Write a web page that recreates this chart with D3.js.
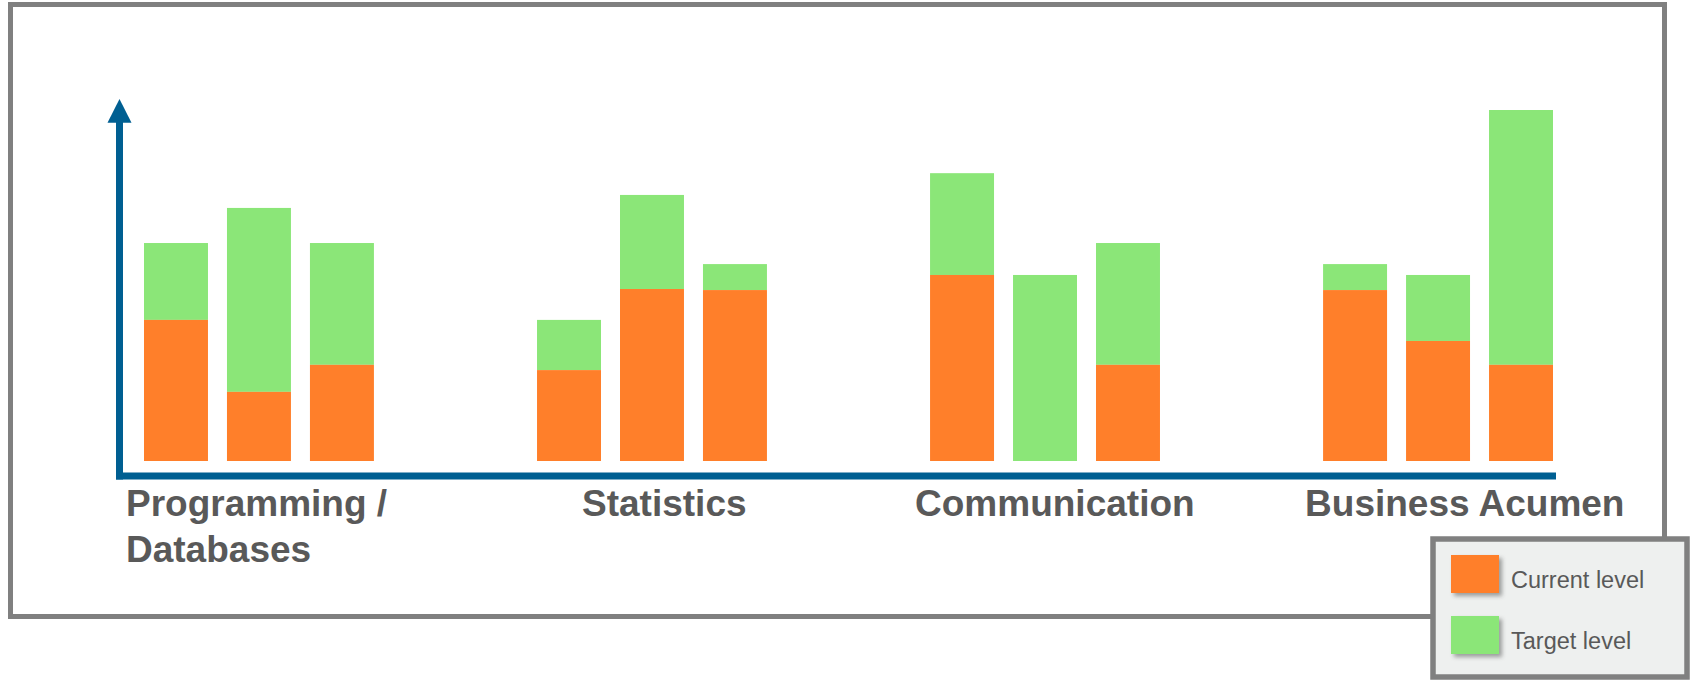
<!DOCTYPE html>
<html>
<head>
<meta charset="utf-8">
<script src="https://cdn.jsdelivr.net/npm/d3@7"></script>
<style>
  body { margin: 0; background: #fff; }
  svg { display: block; font-family: "Liberation Sans", Arial, sans-serif; }
</style>
</head>
<body>
<div id="chart"></div>
<script>
const width = 1692;
const height = 681;

// data
const categories = ["Programming /\nDatabases", "Statistics", "Communication", "Business Acumen"];
const currentLevel = [
    [40.2, 19.7, 27.4],
    [25.9, 49.0, 48.7],
    [53.0, 0, 27.4],
    [48.7, 34.2, 27.4]
];
const targetLevel = [
    [62.1, 72.1, 62.1],
    [40.2, 75.8, 56.1],
    [82.0, 53.0, 62.1],
    [56.1, 53.0, 100]
];
const legendItems = ["Current level", "Target level"];

const orange = "#ff7f2a";
const green = "#8be678";
const axisBlue = "#005f92";
const textGrey = "#595959";

// layout
const labelDx = [-18, 45, -15, -18];

const svg = d3.select("#chart")
    .append("svg")
    .attr("width", width)
    .attr("height", height);

const defs = svg.append("defs");
defs.append("filter")
    .attr("id", "shadow")
    .attr("x", "-20%").attr("y", "-20%")
    .attr("width", "150%").attr("height", "150%")
    .append("feDropShadow")
    .attr("dx", 3).attr("dy", 3)
    .attr("stdDeviation", 2)
    .attr("flood-color", "#000")
    .attr("flood-opacity", 0.35);

// outer frame
svg.append("rect")
    .attr("x", 10.5).attr("y", 4.5)
    .attr("width", 1654).attr("height", 612)
    .attr("fill", "#fff")
    .attr("stroke", "#808080")
    .attr("stroke-width", 5);

const x0 = d3.scaleBand()
    .domain(categories)
    .range([144, 1553])
    .paddingInner(0.415)
    .paddingOuter(0);

const x1 = d3.scaleBand()
    .domain([0, 1, 2])
    .range([0, x0.bandwidth()])
    .paddingInner(0.229);

const y = d3.scaleLinear()
    .domain([0, 100])
    .range([461, 110]);

// bars
const groups = svg.selectAll(".group")
    .data(categories)
    .enter().append("g")
    .attr("class", "group")
    .attr("transform", d => `translate(${x0(d)},0)`);

groups.selectAll(".target")
    .data((d, i) => targetLevel[i].map((t, j) => ({ j, cur: currentLevel[i][j], tgt: t })))
    .enter().append("rect")
    .attr("class", "target")
    .attr("x", d => x1(d.j))
    .attr("width", x1.bandwidth())
    .attr("y", d => y(d.tgt))
    .attr("height", d => y(d.cur) - y(d.tgt))
    .attr("fill", green);

groups.selectAll(".current")
    .data((d, i) => currentLevel[i].map((c, j) => ({ j, cur: c })))
    .enter().append("rect")
    .attr("class", "current")
    .attr("x", d => x1(d.j))
    .attr("width", x1.bandwidth())
    .attr("y", d => y(d.cur))
    .attr("height", d => y(0) - y(d.cur))
    .attr("fill", orange);

// axes (arrows without ticks)
const axisX = x0.range()[0] - 24.5;
const axisY = y(0) + 15;

svg.append("line")
    .attr("x1", axisX - 3.5).attr("x2", x0.range()[1] + 3)
    .attr("y1", axisY).attr("y2", axisY)
    .attr("stroke", axisBlue)
    .attr("stroke-width", 7);

svg.append("line")
    .attr("x1", axisX).attr("x2", axisX)
    .attr("y1", axisY + 3.5).attr("y2", 120)
    .attr("stroke", axisBlue)
    .attr("stroke-width", 7);

svg.append("path")
    .attr("d", `M${axisX - 12},122.7 L${axisX},99 L${axisX + 12},122.7 Z`)
    .attr("fill", axisBlue);

// category labels
svg.selectAll(".cat-label")
    .data(categories)
    .enter().append("text")
    .attr("class", "cat-label")
    .attr("transform", (d, i) => `translate(${x0(d) + labelDx[i]},516)`)
    .attr("fill", textGrey)
    .attr("font-size", "37px")
    .attr("font-weight", "bold")
    .selectAll("tspan")
    .data(d => d.split("\n"))
    .enter().append("tspan")
    .attr("x", 0)
    .attr("y", (d, i) => i * 46)
    .text(d => d);

// legend
const legend = svg.append("g")
    .attr("transform", "translate(1433,539)");

legend.append("rect")
    .attr("width", 254).attr("height", 138)
    .attr("fill", "#eef0ef")
    .attr("stroke", "#808080")
    .attr("stroke-width", 5.5);

const item = legend.selectAll(".legend-item")
    .data(legendItems)
    .enter().append("g")
    .attr("class", "legend-item")
    .attr("transform", (d, i) => `translate(18,${16 + i * 61})`);

item.append("rect")
    .attr("width", 48).attr("height", 38)
    .attr("fill", (d, i) => i === 0 ? orange : green)
    .attr("filter", "url(#shadow)");

item.append("text")
    .attr("x", 60)
    .attr("y", 33)
    .attr("fill", textGrey)
    .attr("font-size", "23.5px")
    .text(d => d);
</script>
</body>
</html>
